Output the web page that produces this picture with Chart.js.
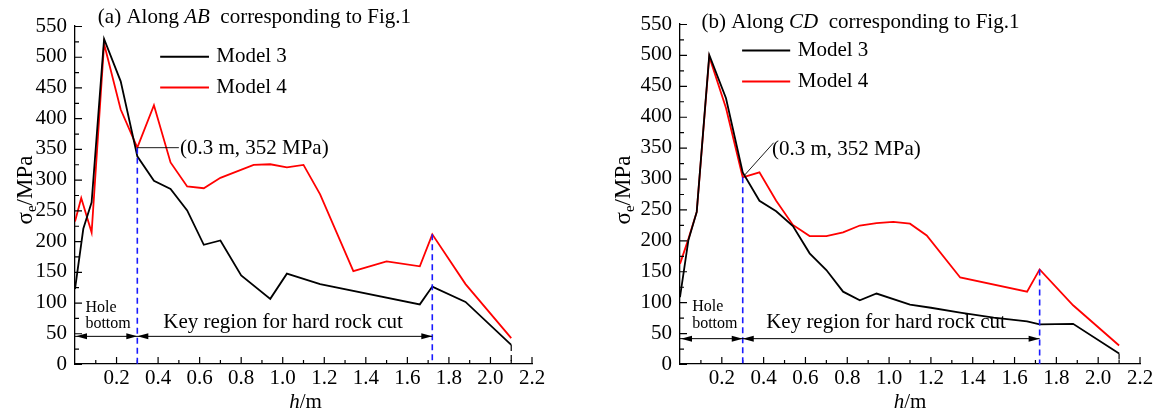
<!DOCTYPE html>
<html>
<head>
<meta charset="utf-8">
<script src="https://cdn.jsdelivr.net/npm/chart.js@4/dist/chart.umd.min.js"></script>
<style>
  body { margin: 0; background: #fff; }
  #wrap { position: relative; width: 1159px; height: 414px; }
  canvas { position: absolute; top: 0; }
</style>
</head>
<body>
<div id="wrap">
  <canvas id="chartAB" width="580" height="414" style="left:0px"></canvas>
  <canvas id="chartCD" width="579" height="414" style="left:580px"></canvas>
</div>
<script>
// --- data (h in m, von Mises stress in MPa) ---
const hAB3 = [0, 0.04, 0.08, 0.14, 0.22, 0.30, 0.38, 0.46, 0.54, 0.62, 0.70, 0.80, 0.94, 1.02, 1.18, 1.66, 1.72, 1.88, 2.10];
const sAB3 = [122, 220, 263, 529, 460, 338, 298, 285, 250, 194, 201, 144, 106, 147, 130, 97, 126, 101, 31];

const hAB4 = [0, 0.03, 0.08, 0.14, 0.22, 0.30, 0.38, 0.46, 0.54, 0.62, 0.70, 0.86, 0.94, 1.02, 1.10, 1.18, 1.34, 1.50, 1.66, 1.72, 1.88, 2.10];
const sAB4 = [232, 270, 214, 521, 414, 352, 421, 328, 289, 286, 303, 324, 325, 320, 324, 276, 151, 167, 159, 211, 130, 42];

const hCD3 = [0, 0.04, 0.08, 0.14, 0.22, 0.30, 0.38, 0.46, 0.54, 0.62, 0.70, 0.78, 0.86, 0.94, 1.10, 1.20, 1.34, 1.50, 1.66, 1.72, 1.88, 2.10];
const sCD3 = [108, 200, 246, 500, 430, 310, 264, 247, 223, 179, 152, 117, 103, 114, 96, 91, 83, 75, 69, 64, 65, 17];

const hCD4 = [0, 0.04, 0.08, 0.14, 0.22, 0.30, 0.38, 0.46, 0.54, 0.62, 0.70, 0.78, 0.86, 0.94, 1.02, 1.10, 1.18, 1.34, 1.66, 1.72, 1.88, 2.10];
const sCD4 = [162, 202, 246, 497, 414, 302, 310, 264, 225, 207, 207, 213, 224, 228, 230, 227, 208, 140, 117, 153, 95, 30];

const seriesNames = ['Model 3', 'Model 4'];
const seriesColors = ['#000000', '#ff0000'];
const xTicks = [0.2, 0.4, 0.6, 0.8, 1.0, 1.2, 1.4, 1.6, 1.8, 2.0, 2.2];
const yTicks = [0, 50, 100, 150, 200, 250, 300, 350, 400, 450, 500, 550];

// key positions marked on each panel
const keyAB = { start: 0.3, startS: 352, end: 1.72, endS: 211, last: 2.10, lastS: 31, arrowS: 45 };
const keyCD = { start: 0.3, startS: 302, end: 1.72, endS: 153, last: 2.10, lastS: 17, arrowS: 41 };

const FONT = '"Liberation Serif", "Times New Roman", serif';

const pts = (h, s) => h.map((v, i) => ({ x: v, y: s[i] }));

function arrowHead(ctx, tipX, tipY, dir) {
    // dir -1 points left, +1 points right
    ctx.beginPath();
    ctx.moveTo(tipX, tipY);
    ctx.lineTo(tipX - dir * 11, tipY - 3);
    ctx.lineTo(tipX - dir * 11, tipY + 3);
    ctx.closePath();
    ctx.fill();
}

function makeChart(id, opt) {
    const ctx = document.getElementById(id).getContext('2d');

    const decor = {
        id: 'decor',
        afterDraw(chart) {
            const c = chart.ctx;
            const xs = chart.scales.x, ys = chart.scales.y;
            const ca = chart.chartArea;
            const X = v => xs.getPixelForValue(v);
            const Y = v => ys.getPixelForValue(v);
            c.save();

            // inward tick marks
            c.strokeStyle = '#000';
            c.lineWidth = 1.2;
            c.beginPath();
            for (let v = 0; v <= 550; v += 25) {
                const len = v % 50 === 0 ? 7 : 4;
                c.moveTo(ca.left, Y(v) + 0.5);
                c.lineTo(ca.left + len, Y(v) + 0.5);
            }
            for (let i = 1; i <= 22; i++) {
                const len = i % 2 === 0 ? 7 : 4;
                c.moveTo(X(i / 10), ca.bottom);
                c.lineTo(X(i / 10), ca.bottom - len);
            }
            c.stroke();

            // dashed marker lines
            const k = opt.key;
            c.lineWidth = 1.6;
            c.setLineDash([6, 4]);
            c.strokeStyle = '#1a1aff';
            c.beginPath();
            c.moveTo(X(k.start), Y(k.startS)); c.lineTo(X(k.start), ca.bottom);
            c.moveTo(X(k.end), Y(k.endS)); c.lineTo(X(k.end), ca.bottom);
            c.stroke();
            c.strokeStyle = '#000';
            c.lineWidth = 1.2;
            c.beginPath();
            c.moveTo(X(k.last), Y(k.lastS)); c.lineTo(X(k.last), ca.bottom);
            c.stroke();
            c.setLineDash([]);

            // region arrows
            const ay = Y(k.arrowS);
            c.strokeStyle = '#000';
            c.fillStyle = '#000';
            c.lineWidth = 1;
            c.beginPath();
            c.moveTo(X(0), ay); c.lineTo(X(k.end), ay);
            c.stroke();
            arrowHead(c, X(0) + 1, ay, -1);
            arrowHead(c, X(k.start), ay, 1);
            arrowHead(c, X(k.start), ay, -1);
            arrowHead(c, X(k.end), ay, 1);

            c.textBaseline = 'middle';
            c.textAlign = 'left';
            c.font = '16px ' + FONT;
            c.fillText('Hole', X(opt.holeH), Y(92));
            c.fillText('bottom', X(opt.holeH), Y(65));
            c.font = '21px ' + FONT;
            c.fillText('Key region for hard rock cut', X(opt.keyTextH), Y(67));

            // point callout
            c.lineWidth = 0.9;
            c.beginPath();
            c.moveTo(X(opt.callout[0]), Y(opt.callout[1]));
            c.lineTo(X(opt.callout[2]), Y(opt.callout[3]));
            c.stroke();
            c.fillText('(0.3 m, 352 MPa)', X(opt.calloutTextH), Y(opt.calloutTextS));

            // legend
            seriesNames.forEach((name, i) => {
                const ly = Y(opt.legendS[i]);
                c.strokeStyle = seriesColors[i];
                c.lineWidth = 2;
                c.beginPath();
                c.moveTo(X(opt.legendH[0]), ly);
                c.lineTo(X(opt.legendH[1]), ly);
                c.stroke();
                c.fillStyle = '#000';
                c.fillText(name, X(opt.legendH[2]), ly);
            });

            // panel title
            let tx = X(opt.titleH);
            const ty = Y(opt.titleS);
            c.font = '21px ' + FONT;
            c.fillText(opt.title[0], tx, ty); tx += c.measureText(opt.title[0]).width;
            c.font = 'italic 21px ' + FONT;
            c.fillText(opt.title[1], tx, ty); tx += c.measureText(opt.title[1]).width;
            c.font = '21px ' + FONT;
            c.fillText(opt.title[2], tx, ty);

            // x axis title h/m
            c.font = 'italic 21px ' + FONT;
            const hw = c.measureText('h').width;
            c.font = '21px ' + FONT;
            const mw = c.measureText('/m').width;
            const hx = X(opt.xTitleH) - (hw + mw) / 2;
            c.font = 'italic 21px ' + FONT;
            c.fillText('h', hx, ca.bottom + 38);
            c.font = '21px ' + FONT;
            c.fillText('/m', hx + hw, ca.bottom + 38);

            // y axis title sigma_e/MPa
            c.translate(opt.yTitleX, 190);
            c.rotate(-Math.PI / 2);
            c.font = '23px ' + FONT;
            const sw = c.measureText('σ').width;
            c.font = '15px ' + FONT;
            const ew = c.measureText('e').width;
            c.font = '23px ' + FONT;
            const pw = c.measureText('/MPa').width;
            const sx = -(sw + ew + pw) / 2;
            c.fillText('σ', sx, 0);
            c.font = '15px ' + FONT;
            c.fillText('e', sx + sw, 6);
            c.font = '23px ' + FONT;
            c.fillText('/MPa', sx + sw + ew, 0);

            c.restore();
        }
    };

    return new Chart(ctx, {
        type: 'line',
        data: {
            datasets: [
                { label: seriesNames[0], data: pts(opt.h3, opt.s3), borderColor: seriesColors[0], borderWidth: 1.8, pointRadius: 0, tension: 0 },
                { label: seriesNames[1], data: pts(opt.h4, opt.s4), borderColor: seriesColors[1], borderWidth: 1.8, pointRadius: 0, tension: 0 }
            ]
        },
        options: {
            responsive: false,
            animation: false,
            layout: { padding: opt.padding },
            plugins: { legend: { display: false }, tooltip: { enabled: false } },
            scales: {
                x: {
                    type: 'linear', min: 0, max: 2.2,
                    afterBuildTicks: s => { s.ticks = [0].concat(xTicks).map(v => ({ value: v })); },
                    afterFit: s => { s.height = 50; },
                    grid: { display: false, drawTicks: false, tickLength: 0 },
                    border: { display: true, color: '#000', width: 1.3 },
                    ticks: {
                        padding: 2, color: '#000', font: { family: FONT, size: 21 },
                        maxRotation: 0, autoSkip: false,
                        callback: v => (v === 0 ? '' : v.toFixed(1))
                    }
                },
                y: {
                    min: 0, max: 550,
                    afterBuildTicks: s => { s.ticks = yTicks.map(v => ({ value: v })); },
                    afterFit: s => { s.width = opt.yAxisW; },
                    grid: { display: false, drawTicks: false, tickLength: 0 },
                    border: { display: true, color: '#000', width: 1.3 },
                    ticks: { padding: 8, color: '#000', font: { family: FONT, size: 21 } }
                }
            }
        },
        plugins: [decor]
    });
}

makeChart('chartAB', {
    h3: hAB3, s3: sAB3, h4: hAB4, s4: sAB4, key: keyAB,
    padding: { top: 26, right: 48, bottom: 0, left: 0 }, yAxisW: 75,
    holeH: 0.05, keyTextH: 0.425,
    callout: [0.30, 352, 0.50, 352], calloutTextH: 0.505, calloutTextS: 350,
    legendS: [500, 450], legendH: [0.41, 0.645, 0.68],
    title: ['(a) Along ', 'AB', '  corresponding to Fig.1'], titleH: 0.11, titleS: 564,
    xTitleH: 1.11, yTitleX: 26
});

makeChart('chartCD', {
    h3: hCD3, s3: sCD3, h4: hCD4, s4: sCD4, key: keyCD,
    padding: { top: 24, right: 19, bottom: 0, left: 0 }, yAxisW: 100,
    holeH: 0.058, keyTextH: 0.412,
    callout: [0.305, 304, 0.448, 358], calloutTextH: 0.44, calloutTextS: 347,
    legendS: [507, 457], legendH: [0.297, 0.527, 0.563],
    title: ['(b) Along ', 'CD', '  corresponding to Fig.1'], titleH: 0.103, titleS: 553,
    xTitleH: 1.10, yTitleX: 44
});
</script>
</body>
</html>
